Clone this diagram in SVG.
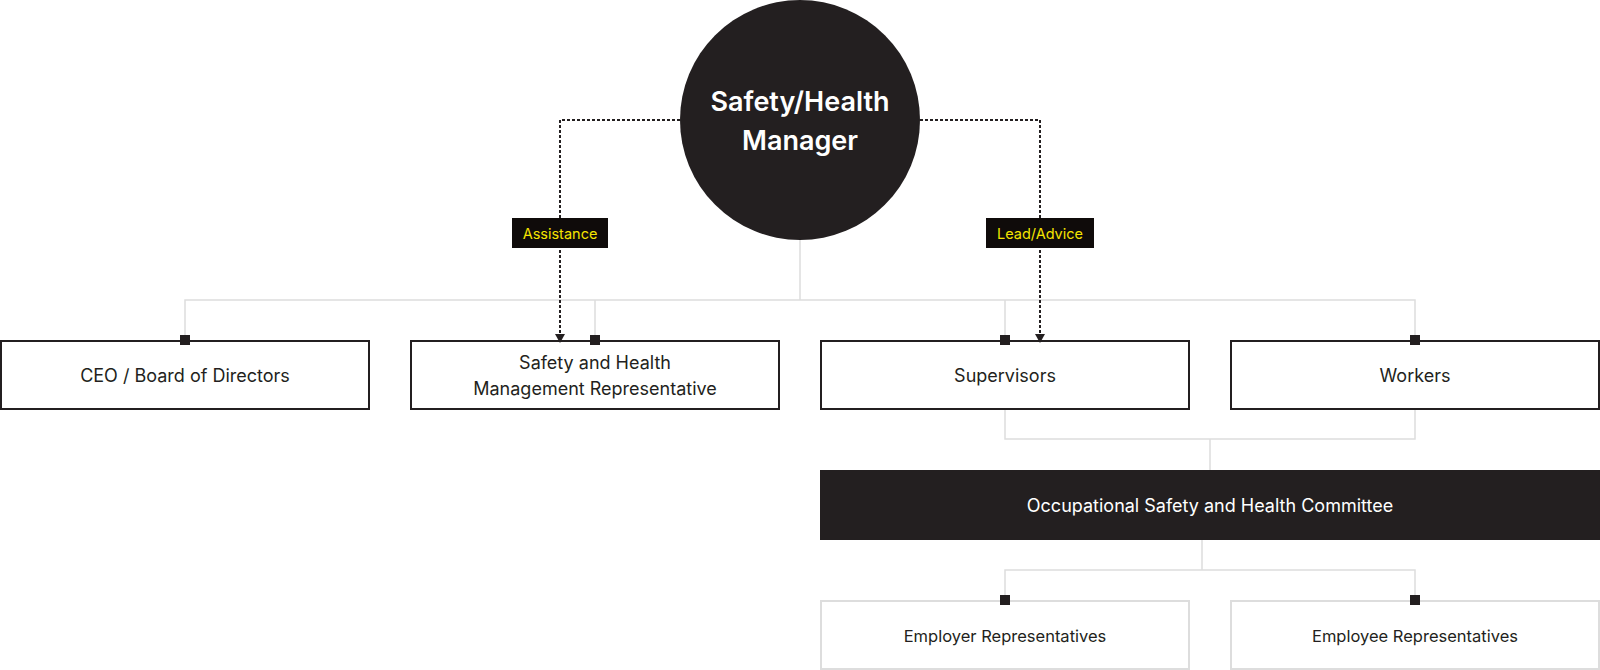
<svg xmlns="http://www.w3.org/2000/svg" width="1600" height="670" viewBox="0 0 1600 670">
  <defs>
    <style>
      .box { fill: #ffffff; stroke: #231f20; stroke-width: 2; }
      .lbox { fill: #ffffff; stroke: #dddddd; stroke-width: 2; }
      .dark { fill: #231f20; }
      .t { font-family: Inter, "Noto Sans", "Liberation Sans", sans-serif; fill: #231f20; font-size: 18px; text-anchor: middle; dominant-baseline: central; }
      .ts { font-size: 16.5px; }
      .tw { fill: #ffffff; }
      .tc { font-family: Inter, "Noto Sans", "Liberation Sans", sans-serif; fill: #ffffff; font-size: 27px; font-weight: 600; text-anchor: middle; }
      .tl { font-family: Inter, "Noto Sans", "Liberation Sans", sans-serif; fill: #f5e400; font-size: 14.5px; text-anchor: middle; dominant-baseline: central; }
      .tree { fill: none; stroke: #dddddd; stroke-width: 1.5; }
      .dot { fill: none; stroke: #231f20; stroke-width: 2; stroke-dasharray: 3 2; }
      .sq { fill: #231f20; }
      .tag { fill: #0f0b0a; }
    </style>
  </defs>

  <g id="manager">
    <circle class="dark" cx="800" cy="120" r="120"/>
    <text class="tc" x="800" y="111">Safety/Health</text>
    <text class="tc" x="800" y="150">Manager</text>
  </g>

  <g id="ceo">
    <rect class="box" x="1" y="341" width="368" height="68"/>
    <text class="t" x="185" y="375">CEO / Board of Directors</text>
  </g>
  <g id="shmr">
    <rect class="box" x="411" y="341" width="368" height="68"/>
    <text class="t" x="595" y="362">Safety and Health</text>
    <text class="t" x="595" y="388">Management Representative</text>
  </g>
  <g id="supervisors">
    <rect class="box" x="821" y="341" width="368" height="68"/>
    <text class="t" x="1005" y="375">Supervisors</text>
  </g>
  <g id="workers">
    <rect class="box" x="1231" y="341" width="368" height="68"/>
    <text class="t" x="1415" y="375">Workers</text>
  </g>
  <g id="committee">
    <rect class="dark" x="820" y="470" width="780" height="70"/>
    <text class="t tw" x="1210" y="505">Occupational Safety and Health Committee</text>
  </g>
  <g id="employer">
    <rect class="lbox" x="821" y="601" width="368" height="68"/>
    <text class="t ts" x="1005" y="636">Employer Representatives</text>
  </g>
  <g id="employee">
    <rect class="lbox" x="1231" y="601" width="368" height="68"/>
    <text class="t ts" x="1415" y="636">Employee Representatives</text>
  </g>

  <g id="connectors">
    <path class="tree" d="M800,240 V300 M185,340 V300 H1415 V340 M595,300 V340 M1005,300 V340"/>
    <path class="tree" d="M1005,410 V439 H1415 V410 M1210,439 V470"/>
    <path class="tree" d="M1202,540 V570 M1005,600 V570 H1415 V600"/>
    <path class="dot" d="M680,120 H560 V334"/>
    <path class="dot" d="M920,120 H1040 V334"/>
    <path d="M555,334 L565,334 L560,343 Z" fill="#231f20"/>
    <path d="M1035,334 L1045,334 L1040,343 Z" fill="#231f20"/>
    <rect class="sq" x="180" y="335" width="10" height="10"/>
    <rect class="sq" x="590" y="335" width="10" height="10"/>
    <rect class="sq" x="1000" y="335" width="10" height="10"/>
    <rect class="sq" x="1410" y="335" width="10" height="10"/>
    <rect class="sq" x="1000" y="595" width="10" height="10"/>
    <rect class="sq" x="1410" y="595" width="10" height="10"/>
    <g id="label-assistance">
      <rect class="tag" x="512" y="218" width="96" height="30"/>
      <text class="tl" x="560" y="233">Assistance</text>
    </g>
    <g id="label-lead">
      <rect class="tag" x="986" y="218" width="108" height="30"/>
      <text class="tl" x="1040" y="233">Lead/Advice</text>
    </g>
  </g>
</svg>
